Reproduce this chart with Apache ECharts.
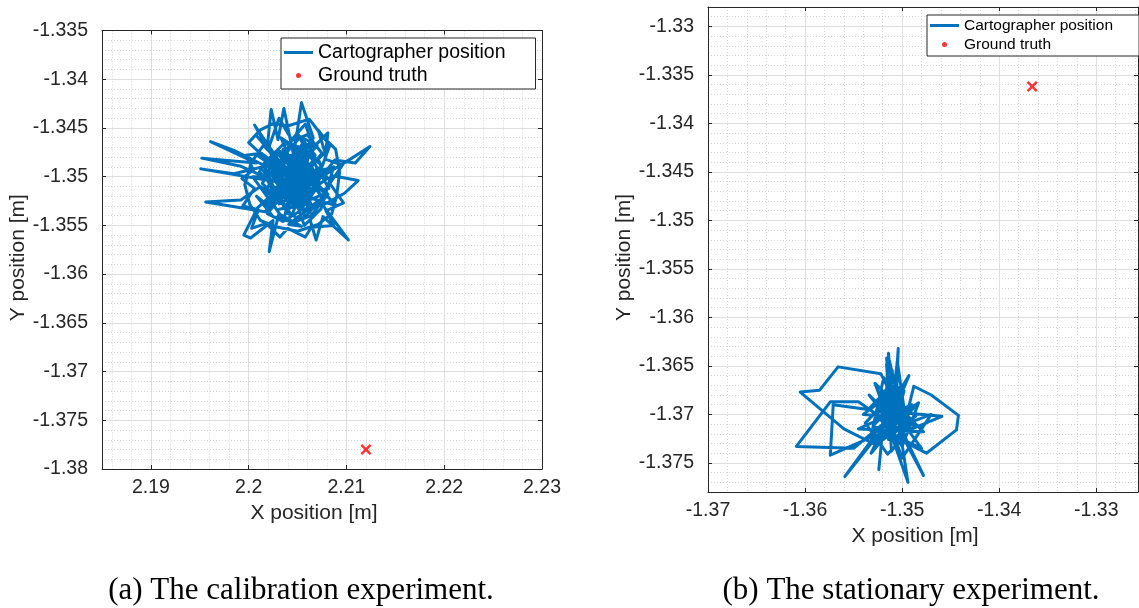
<!DOCTYPE html>
<html>
<head>
<meta charset="utf-8">
<script src="https://cdn.jsdelivr.net/npm/echarts@6/dist/echarts.min.js"></script>
<style>
  html, body { margin: 0; padding: 0; background: #fff; }
  #chart { width: 1139px; height: 608px; }
</style>
</head>
<body>
<div id="chart"></div>
<script>
// ---- data ----
// (a) calibration experiment
const calibX = [
  2.2045, 2.2062, 2.2031, 2.2055, 2.2040, 2.2073, 2.2023, 2.2051, 2.2066, 2.2054,
  2.2046, 2.2036, 2.2030, 2.2023, 2.2019, 2.2048, 2.2006, 2.2035, 2.1985, 2.1961,
  2.2008, 2.1952, 2.1991, 2.2043, 2.2078, 2.2071, 2.2083, 2.2058, 2.2027, 2.1951,
  2.1985, 2.2039, 2.2060, 2.2088, 2.2109, 2.2124, 2.2104, 2.2070, 2.2034, 2.2012,
  2.1992, 2.1956, 2.2017, 2.2049, 2.2057, 2.2045, 2.2078, 2.2098, 2.2112, 2.2086,
  2.2063, 2.2069, 2.2076, 2.2102, 2.2072, 2.2041, 2.2054, 2.2031, 2.2021, 2.2025,
  2.2002, 2.1995, 2.2009, 2.2037, 2.2050, 2.2027, 2.2061, 2.2015, 2.2044, 2.2068,
  2.2049, 2.2082, 2.2038, 2.2056, 2.2020, 2.2065, 2.2042, 2.2010, 2.2053, 2.2033,
  2.2075, 2.2047, 2.2029, 2.2062, 2.2040, 2.2090, 2.2058, 2.2004, 2.2036, 2.2052,
  2.2071, 2.2025, 2.2047, 2.2080, 2.2044, 2.2018, 2.2059, 2.2035, 2.2063, 2.2046,
  2.2030, 2.2067, 2.2041, 2.2055, 2.2022, 2.2049, 2.2074, 2.2038, 2.2057, 2.2032,
  2.2048, 2.2039, 2.2057, 2.2044, 2.2028, 2.2041, 2.2060, 2.2052, 2.2069, 2.2058,
  2.2037, 2.2024, 2.2043, 2.2061, 2.2073, 2.2064, 2.2047, 2.2033, 2.2019, 2.2031,
  2.2050, 2.2067, 2.2055, 2.2040, 2.2026, 2.2015, 2.2036, 2.2054, 2.2072, 2.2079,
  2.2065, 2.2046, 2.2034, 2.2049, 2.2063, 2.2051, 2.2029, 2.2016, 2.2027, 2.2045,
  2.2058, 2.2070, 2.2053, 2.2039, 2.2022, 2.2011, 2.2023, 2.2042, 2.2060, 2.2076,
  2.2084, 2.2072, 2.2056, 2.2038, 2.2020, 2.2008, 2.2025, 2.2046, 2.2064, 2.2081,
  2.2067, 2.2048, 2.2032, 2.2044, 2.2060, 2.2075, 2.2062, 2.2043, 2.2026, 2.2014,
  2.2030, 2.2051, 2.2068, 2.2053, 2.2035, 2.2019, 2.2033, 2.2052, 2.2071, 2.2087,
  2.2074, 2.2057, 2.2040, 2.2000, 2.2012, 2.2026, 2.2040, 2.2062, 2.2075, 2.2089,
  2.2093, 2.2090, 2.2085, 2.2071, 2.2050, 2.2030, 2.2012, 2.2001, 2.1996, 2.2003,
  2.2015, 2.2037, 2.2008, 2.2020, 2.2031, 2.2044, 2.2058, 2.2066, 2.2081, 2.2078,
  2.2096, 2.2083, 2.2097, 2.2079, 2.2087, 2.2064, 2.2058, 2.2040, 2.2032, 2.2018,
  2.2003, 2.2010, 2.1994, 2.2006, 2.1993, 2.2005, 2.1997, 2.2013, 2.2045
];
const calibY = [
  -1.3502, -1.3488, -1.3515, -1.3471, -1.3530, -1.3495, -1.3489, -1.3521, -1.3460, -1.3424,
  -1.3478, -1.3430, -1.3462, -1.3431, -1.3470, -1.3509, -1.3447, -1.3498, -1.3473, -1.3464,
  -1.3486, -1.3481, -1.3489, -1.3512, -1.3475, -1.3452, -1.3468, -1.3536, -1.3505, -1.3492,
  -1.3497, -1.3484, -1.3518, -1.3483, -1.3486, -1.3469, -1.3482, -1.3503, -1.3527, -1.3510,
  -1.3524, -1.3526, -1.3536, -1.3495, -1.3540, -1.3468, -1.3528, -1.3517, -1.3504, -1.3499,
  -1.3545, -1.3565, -1.3541, -1.3565, -1.3524, -1.3549, -1.3551, -1.3538, -1.3577, -1.3545,
  -1.3563, -1.3560, -1.3532, -1.3506, -1.3480, -1.3475, -1.3502, -1.3494, -1.3540, -1.3478,
  -1.3455, -1.3512, -1.3520, -1.3490, -1.3517, -1.3530, -1.3487, -1.3479, -1.3508, -1.3460,
  -1.3488, -1.3533, -1.3492, -1.3466, -1.3515, -1.3530, -1.3497, -1.3500, -1.3544, -1.3475,
  -1.3512, -1.3485, -1.3522, -1.3492, -1.3500, -1.3528, -1.3509, -1.3472, -1.3537, -1.3493,
  -1.3519, -1.3483, -1.3507, -1.3527, -1.3498, -1.3486, -1.3519, -1.3534, -1.3463, -1.3503,
  -1.3512, -1.3497, -1.3505, -1.3481, -1.3490, -1.3469, -1.3478, -1.3493, -1.3499, -1.3516,
  -1.3510, -1.3524, -1.3531, -1.3524, -1.3507, -1.3489, -1.3477, -1.3482, -1.3503, -1.3528,
  -1.3518, -1.3531, -1.3544, -1.3538, -1.3512, -1.3487, -1.3466, -1.3470, -1.3484, -1.3503,
  -1.3513, -1.3505, -1.3493, -1.3489, -1.3496, -1.3529, -1.3534, -1.3516, -1.3499, -1.3516,
  -1.3482, -1.3468, -1.3459, -1.3475, -1.3480, -1.3495, -1.3508, -1.3524, -1.3535, -1.3522,
  -1.3505, -1.3491, -1.3501, -1.3515, -1.3530, -1.3520, -1.3541, -1.3547, -1.3540, -1.3518,
  -1.3505, -1.3497, -1.3486, -1.3463, -1.3457, -1.3476, -1.3492, -1.3507, -1.3519, -1.3507,
  -1.3473, -1.3484, -1.3511, -1.3535, -1.3546, -1.3538, -1.3521, -1.3510, -1.3497, -1.3490,
  -1.3533, -1.3550, -1.3502, -1.3465, -1.3452, -1.3445, -1.3448, -1.3441, -1.3458, -1.3472,
  -1.3495, -1.3520, -1.3538, -1.3549, -1.3556, -1.3552, -1.3545, -1.3528, -1.3508, -1.3485,
  -1.3468, -1.3490, -1.3458, -1.3472, -1.3440, -1.3462, -1.3446, -1.3470, -1.3455, -1.3482,
  -1.3488, -1.3507, -1.3527, -1.3535, -1.3550, -1.3552, -1.3562, -1.3553, -1.3562, -1.3548,
  -1.3553, -1.3534, -1.3530, -1.3512, -1.3502, -1.3493, -1.3478, -1.3476, -1.3500
];
const calibTruthX = [2.2120];
const calibTruthY = [-1.3780];

// (b) stationary experiment
const statX = [
  -1.3512, -1.3508, -1.3515, -1.3510, -1.3518, -1.3514, -1.3509, -1.3504, -1.3506, -1.3522,
  -1.3566, -1.3585, -1.3605, -1.3560, -1.3530, -1.3498, -1.3488, -1.3470, -1.3442, -1.3444,
  -1.3475, -1.3510, -1.3526, -1.3545, -1.3574, -1.3609, -1.3550, -1.3520, -1.3502, -1.3459,
  -1.3490, -1.3513, -1.3478, -1.3502, -1.3494, -1.3508, -1.3517, -1.3524, -1.3520, -1.3559,
  -1.3528, -1.3574, -1.3571, -1.3535, -1.3511, -1.3496, -1.3505, -1.3514, -1.3488, -1.3520,
  -1.3499, -1.3530, -1.3480, -1.3507, -1.3516, -1.3511, -1.3500, -1.3534, -1.3503, -1.3512,
  -1.3493, -1.3521, -1.3486, -1.3509, -1.3512, -1.3507, -1.3516, -1.3510, -1.3498, -1.3514,
  -1.3521, -1.3505, -1.3511, -1.3490, -1.3517, -1.3527, -1.3503, -1.3513, -1.3509, -1.3495,
  -1.3519, -1.3531, -1.3506, -1.3483, -1.3500, -1.3522, -1.3512, -1.3538, -1.3515, -1.3497,
  -1.3508, -1.3487, -1.3510, -1.3525, -1.3504, -1.3515, -1.3540, -1.3497, -1.3532, -1.3490,
  -1.3545, -1.3478, -1.3528, -1.3500, -1.3470, -1.3535, -1.3505
];
const statY = [
  -1.3700, -1.3685, -1.3720, -1.3655, -1.3712, -1.3637, -1.3705, -1.3632, -1.3690, -1.3658,
  -1.3651, -1.3675, -1.3677, -1.3715, -1.3730, -1.3712, -1.3671, -1.3680, -1.3701, -1.3716,
  -1.3740, -1.3722, -1.3700, -1.3687, -1.3687, -1.3733, -1.3735, -1.3710, -1.3698, -1.3702,
  -1.3715, -1.3690, -1.3763, -1.3718, -1.3770, -1.3730, -1.3683, -1.3757, -1.3715, -1.3764,
  -1.3722, -1.3742, -1.3690, -1.3695, -1.3670, -1.3708, -1.3645, -1.3726, -1.3693, -1.3704,
  -1.3680, -1.3712, -1.3735, -1.3698, -1.3648, -1.3738, -1.3722, -1.3680, -1.3710, -1.3692,
  -1.3660, -1.3727, -1.3702, -1.3716, -1.3668, -1.3712, -1.3642, -1.3700, -1.3676, -1.3719,
  -1.3690, -1.3656, -1.3728, -1.3708, -1.3675, -1.3706, -1.3689, -1.3645, -1.3722, -1.3697,
  -1.3662, -1.3718, -1.3704, -1.3688, -1.3733, -1.3697, -1.3681, -1.3709, -1.3741, -1.3723,
  -1.3694, -1.3713, -1.3676, -1.3726, -1.3716, -1.3702, -1.3700, -1.3668, -1.3740, -1.3690,
  -1.3715, -1.3718, -1.3668, -1.3745, -1.3700, -1.3725, -1.3700
];
const statTruthX = [-1.3366];
const statTruthY = [-1.3362];

// axis ranges and tick values
const xRangeA = [2.185, 2.23];
const yRangeA = [-1.38, -1.335];
const xTicksA = [2.19, 2.2, 2.21, 2.22, 2.23];
const yTicksA = [-1.38, -1.375, -1.37, -1.365, -1.36, -1.355, -1.35, -1.345, -1.34, -1.335];

const xRangeB = [-1.37, -1.3257];
const yRangeB = [-1.378, -1.328];
const xTicksB = [-1.37, -1.36, -1.35, -1.34, -1.33];
const yTicksB = [-1.375, -1.37, -1.365, -1.36, -1.355, -1.35, -1.345, -1.34, -1.335, -1.33];

// minor grid: 5 steps per major interval
function minorValues(range, step) {
  const out = [];
  let k = Math.ceil(range[0] / step - 1e-6);
  while (k * step <= range[1] + 1e-9) {
    out.push(+(k * step).toFixed(5));
    k++;
  }
  return out;
}

const FONT = '"Liberation Sans", Arial, sans-serif';
const AXIS_COLOR = '#262626';
const fmt = v => String(parseFloat((+v).toFixed(4)));
const pairs = (xs, ys) => xs.map((x, i) => [x, ys[i]]);
const crossPath = 'path://M0,1.6L1.6,0L5,3.4L8.4,0L10,1.6L6.6,5L10,8.4L8.4,10L5,6.6L1.6,10L0,8.4L3.4,5Z';
const lineIcon = 'path://M0,0H29V3H0Z';

function minorAxis(gridIndex, range, step, position) {
  return {
    type: 'value', gridIndex, position, min: range[0], max: range[1],
    axisLine: { show: false },
    axisTick: { show: false, customValues: minorValues(range, step) },
    axisLabel: { show: false },
    splitLine: { show: true, lineStyle: { color: '#d6d6d6', width: 1, type: [1, 2] } },
    z: 0
  };
}

function mainAxis(gridIndex, range, ticks, position, name, nameGap, isY) {
  return {
    type: 'value', gridIndex, position, min: range[0], max: range[1],
    name, nameLocation: 'middle', nameGap, nameRotate: isY ? 90 : 0,
    nameTextStyle: { fontFamily: FONT, fontSize: 21, color: AXIS_COLOR, padding: [0, 16, 0, 0] },
    axisLine: { show: true, onZero: false, lineStyle: { color: AXIS_COLOR, width: 1 } },
    axisTick: { show: true, inside: true, length: 4, customValues: ticks, lineStyle: { color: AXIS_COLOR } },
    axisLabel: {
      customValues: ticks, formatter: fmt, fontFamily: FONT, fontSize: 19.5,
      color: AXIS_COLOR, margin: isY ? 14 : 9
    },
    splitLine: { show: true, lineStyle: { color: '#dfdfdf', width: 1 } },
    z: 1
  };
}

function boxAxis(gridIndex, range, ticks, position) {
  return {
    type: 'value', gridIndex, position, min: range[0], max: range[1],
    axisLine: { show: true, onZero: false, lineStyle: { color: AXIS_COLOR, width: 1 } },
    axisTick: { show: true, inside: true, length: 4, customValues: ticks, lineStyle: { color: AXIS_COLOR } },
    axisLabel: { show: false },
    splitLine: { show: false },
    z: 1
  };
}

function legendFor(left, top, fontSize, lineHeight, padding) {
  return {
    left, top, orient: 'vertical', selectedMode: false,
    padding, itemWidth: 29, itemHeight: 5, itemGap: 2,
    borderColor: AXIS_COLOR, borderWidth: 1, backgroundColor: '#fff',
    textStyle: { fontFamily: FONT, fontSize, lineHeight, color: '#000' },
    data: [
      { name: 'Cartographer position', icon: lineIcon },
      { name: 'Ground truth', icon: 'circle' }
    ]
  };
}

const chart = echarts.init(document.getElementById('chart'), null, { renderer: 'canvas' });

chart.setOption({
  animation: false,
  backgroundColor: '#fff',
  grid: [
    { left: 102, top: 30.5, width: 440, height: 438.5, containLabel: false },
    { left: 708, top: 7, width: 430, height: 485, containLabel: false }
  ],
  xAxis: [
    minorAxis(0, xRangeA, 0.002, 'bottom'),
    mainAxis(0, xRangeA, xTicksA, 'bottom', 'X position [m]', 33, false),
    boxAxis(0, xRangeA, xTicksA, 'top'),
    minorAxis(1, xRangeB, 0.002, 'bottom'),
    mainAxis(1, xRangeB, xTicksB, 'bottom', 'X position [m]', 33, false),
    boxAxis(1, xRangeB, xTicksB, 'top')
  ],
  yAxis: [
    minorAxis(0, yRangeA, 0.001, 'left'),
    mainAxis(0, yRangeA, yTicksA, 'left', 'Y position [m]', 70, true),
    boxAxis(0, yRangeA, yTicksA, 'right'),
    minorAxis(1, yRangeB, 0.001, 'left'),
    mainAxis(1, yRangeB, yTicksB, 'left', 'Y position [m]', 70, true),
    boxAxis(1, yRangeB, yTicksB, 'right')
  ],
  legend: [
    legendFor(281, 38, 19.5, 21, [4, 30, 3, 3]),
    legendFor(927, 15, 15.5, 17, [2, 26, 3, 3])
  ],
  series: [
    {
      name: 'Cartographer position', type: 'line', xAxisIndex: 1, yAxisIndex: 1,
      data: pairs(calibX, calibY), symbol: 'none', smooth: false,
      lineStyle: { color: '#0072BD', width: 3, join: 'round' },
      itemStyle: { color: '#0072BD' }, z: 3
    },
    {
      name: 'Ground truth', type: 'scatter', xAxisIndex: 1, yAxisIndex: 1,
      data: pairs(calibTruthX, calibTruthY), symbol: crossPath, symbolSize: 11,
      itemStyle: { color: '#ff0000' }, z: 4
    },
    {
      name: 'Cartographer position', type: 'line', xAxisIndex: 4, yAxisIndex: 4,
      data: pairs(statX, statY), symbol: 'none', smooth: false,
      lineStyle: { color: '#0072BD', width: 3, join: 'round' },
      itemStyle: { color: '#0072BD' }, z: 3
    },
    {
      name: 'Ground truth', type: 'scatter', xAxisIndex: 4, yAxisIndex: 4,
      data: pairs(statTruthX, statTruthY), symbol: crossPath, symbolSize: 11,
      itemStyle: { color: '#ff0000' }, z: 4
    }
  ],
  graphic: [
    {
      type: 'text', x: 301, y: 591,
      style: {
        text: '(a) The calibration experiment.', fontFamily: '"Liberation Serif", serif',
        fontSize: 31, fill: '#000', align: 'center', verticalAlign: 'middle'
      }
    },
    {
      type: 'text', x: 911, y: 591,
      style: {
        text: '(b) The stationary experiment.', fontFamily: '"Liberation Serif", serif',
        fontSize: 31, fill: '#000', align: 'center', verticalAlign: 'middle'
      }
    }
  ]
});
</script>
</body>
</html>
